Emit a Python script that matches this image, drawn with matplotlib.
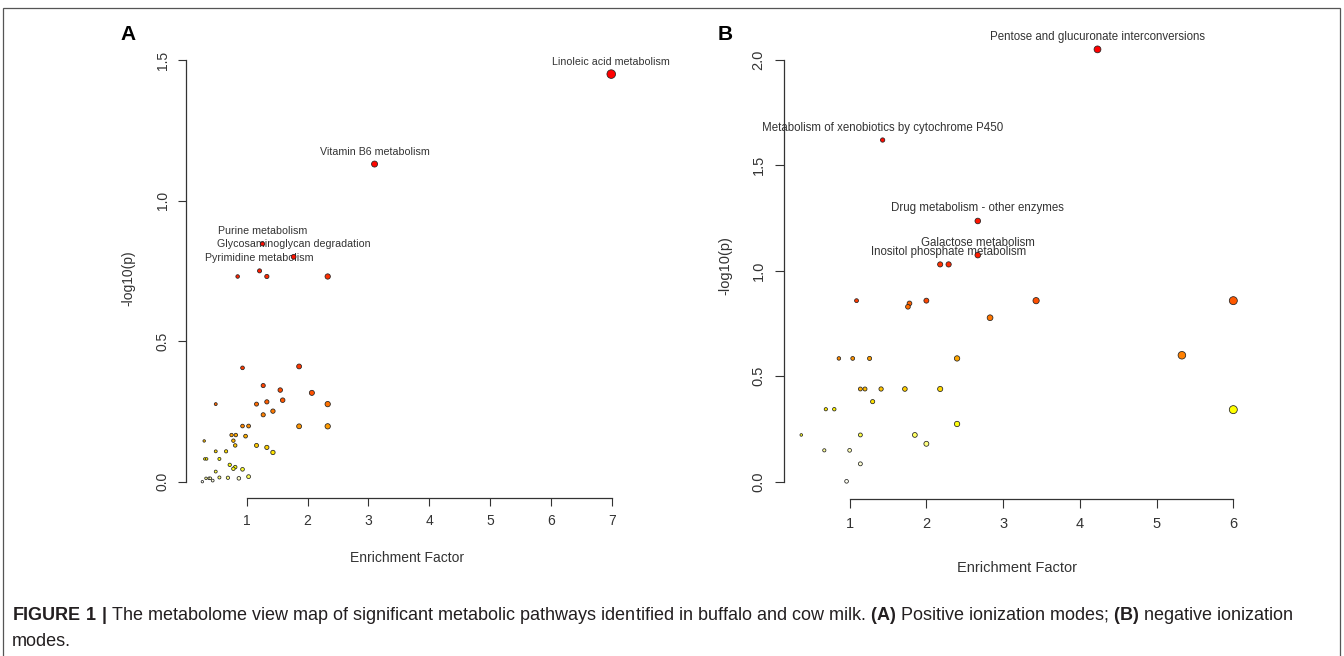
import colorsys
import numpy as np
import matplotlib
matplotlib.use("Agg")
import matplotlib.pyplot as plt
from matplotlib.patches import Rectangle

# ---- panel A: positive ionization ----
a_top_names = ["Linoleic acid metabolism", "Vitamin B6 metabolism", "Purine metabolism",
               "Glycosaminoglycan degradation", "Pyrimidine metabolism"]
a_top_ef = [6.99, 3.10, 1.26, 1.77, 1.21]
a_top_logp = [1.45, 1.13, 0.846, 0.80, 0.75]

a_ef = [0.85, 1.33, 2.33, 0.93, 1.86, 1.27, 1.55, 2.07, 0.49, 1.16, 1.33, 1.59, 2.33,
        1.27, 1.43, 0.93, 1.03, 1.86, 2.33, 0.75, 0.82, 0.78, 0.98, 0.81, 0.30, 1.16,
        1.33, 1.43, 0.49, 0.66, 0.31, 0.34, 0.55, 0.72, 0.78, 0.81, 0.93, 0.49, 0.33,
        0.38, 0.40, 0.44, 0.27, 0.55, 0.69, 0.87, 1.03]
a_logp = [0.73, 0.73, 0.73, 0.405, 0.41, 0.342, 0.326, 0.316, 0.276, 0.276, 0.284, 0.29,
          0.276, 0.238, 0.251, 0.198, 0.198, 0.197, 0.197, 0.166, 0.166, 0.146, 0.162,
          0.129, 0.145, 0.129, 0.122, 0.104, 0.108, 0.108, 0.081, 0.081, 0.081, 0.06,
          0.046, 0.052, 0.044, 0.036, 0.012, 0.012, 0.012, 0.004, 0.0, 0.015, 0.014,
          0.012, 0.018]

# ---- panel B: negative ionization ----
b_top_names = ["Pentose and glucuronate interconversions",
               "Metabolism of xenobiotics by cytochrome P450",
               "Drug metabolism - other enzymes", "Galactose metabolism",
               "Inositol phosphate metabolism"]
b_top_ef = [4.23, 1.43, 2.67, 2.67, 2.29]
b_top_logp = [2.05, 1.62, 1.236, 1.074, 1.03]

b_ef = [2.18, 1.09, 1.78, 1.76, 2.00, 3.43, 2.83, 6.00, 5.33, 6.00, 0.86, 1.04, 1.26,
        2.40, 1.14, 1.20, 1.41, 1.72, 2.18, 1.30, 0.69, 0.80, 2.40, 0.37, 1.14, 1.85,
        2.00, 0.67, 1.00, 1.14, 0.96]
b_logp = [1.03, 0.858, 0.845, 0.829, 0.858, 0.858, 0.777, 0.858, 0.599, 0.341, 0.584,
          0.584, 0.584, 0.584, 0.439, 0.439, 0.439, 0.439, 0.439, 0.379, 0.343, 0.343,
          0.273, 0.221, 0.221, 0.221, 0.179, 0.148, 0.148, 0.084, 0.001]

caption_1 = (r"$\mathbf{FIGURE\ 1\ |}$ The metabolome view map of significant metabolic "
             r"pathways identified in buffalo and cow milk. $\mathbf{(A)}$ Positive "
             r"ionization modes; $\mathbf{(B)}$ negative ionization")
caption_2 = "modes."

W, H = 1344, 656


def fx(x):
    return x / W


def fy(y):
    return 1 - y / H


def heat_colors(n):
    # same as R heat.colors()
    j = n // 4
    i = n - j
    cols = [colorsys.hsv_to_rgb(h, 1, 1) for h in np.linspace(0, 1 / 6, i)]
    if j > 0:
        cols += [colorsys.hsv_to_rgb(1 / 6, s, 1)
                 for s in np.linspace(1 - 1 / (2 * j), 1 / (2 * j), j)]
    return cols


def pathway_plot(ax, top_ef, top_logp, names, ef, logp, rmin, rmax, fs_lab):
    x = np.array(top_ef + ef)
    y = np.array(top_logp + logp)
    order = np.argsort(-y, kind="stable")
    x, y = x[order], y[order]
    cols = heat_colors(len(y))
    sq = np.sqrt(x)
    r = rmin + (rmax - rmin) * (sq - sq.min()) / (sq.max() - sq.min())
    size = (2 * r * 0.72) ** 2
    ax.scatter(x, y, s=size, c=cols, edgecolors="#222222", linewidths=0.55,
               zorder=3, clip_on=False)
    for n, xx, yy in zip(names, top_ef, top_logp):
        ax.annotate(n, (xx, yy), xytext=(0, 9), textcoords="offset points",
                    ha="center", va="center", fontsize=fs_lab, color="#333333",
                    zorder=2, annotation_clip=False)
    xr = x.max() - x.min()
    yr = y.max() - y.min()
    ax.set_xlim(x.min() - 0.04 * xr, x.max() + 0.04 * xr)
    ax.set_ylim(y.min() - 0.04 * yr, y.max() + 0.04 * yr)
    for s in ["top", "right"]:
        ax.spines[s].set_visible(False)
    for s in ["left", "bottom"]:
        ax.spines[s].set_color("#333333")
        ax.spines[s].set_linewidth(0.9)


plt.rcParams["font.family"] = ["Liberation Sans", "DejaVu Sans"]
plt.rcParams["mathtext.fontset"] = "custom"
plt.rcParams["mathtext.rm"] = "Liberation Sans"
plt.rcParams["mathtext.bf"] = "Liberation Sans:bold"

fig = plt.figure(figsize=(W / 100, H / 100), dpi=100)

# panel A
axA = fig.add_axes([fx(186), fy(498), fx(627.6 - 186), (498 - 57.8) / H])
pathway_plot(axA, a_top_ef, a_top_logp, a_top_names, a_ef, a_logp, 1.2, 4.3, 7.7)
axA.spines["left"].set_bounds(0, 1.5)
axA.spines["bottom"].set_bounds(1, 7)
axA.set_xticks(range(1, 8))
axA.set_yticks([0, 0.5, 1.0, 1.5])
axA.set_yticklabels(["0.0", "0.5", "1.0", "1.5"], rotation=90, va="center")
axA.tick_params(length=5.8, width=0.8, color="#333333", labelsize=10,
                labelcolor="#333333", pad=6)
axA.set_xlabel("Enrichment Factor", fontsize=10, color="#333333")
axA.set_ylabel("-log10(p)", fontsize=10, color="#333333")
axA.xaxis.set_label_coords(0.5, (498 - 558) / 440.2)
axA.xaxis.label.set_va("center")
axA.yaxis.set_label_coords((128 - 186) / 441.6, 0.5)
axA.yaxis.label.set_va("center")

# panel B
axB = fig.add_axes([fx(784), fy(498.6), fx(1250.6 - 784), (498.6 - 32.1) / H])
pathway_plot(axB, b_top_ef, b_top_logp, b_top_names, b_ef, b_logp, 1.3, 4.0, 8.3)
axB.spines["left"].set_bounds(0, 2.0)
axB.spines["bottom"].set_bounds(1, 6)
axB.set_xticks(range(1, 7))
axB.set_yticks([0, 0.5, 1.0, 1.5, 2.0])
axB.set_yticklabels(["0.0", "0.5", "1.0", "1.5", "2.0"], rotation=90, va="center")
axB.tick_params(length=6.3, width=0.8, color="#333333", labelsize=10.5,
                labelcolor="#333333", pad=7)
axB.set_xlabel("Enrichment Factor", fontsize=10.5, color="#333333")
axB.set_ylabel("-log10(p)", fontsize=10.5, color="#333333")
axB.xaxis.set_label_coords(0.5, (498.6 - 567.7) / 466.5)
axB.xaxis.label.set_va("center")
axB.yaxis.set_label_coords((725 - 784) / 466.6, 0.5)
axB.yaxis.label.set_va("center")

# panel letters
fig.text(fx(128), fy(35), "A", fontsize=15, weight="bold", ha="center", va="center")
fig.text(fx(725), fy(35), "B", fontsize=15, weight="bold", ha="center", va="center")

# frame
fig.add_artist(Rectangle((fx(3), fy(700)), fx(1340 - 3), (700 - 8) / H, fill=False,
                         edgecolor="#555555", linewidth=0.9, transform=fig.transFigure))

# caption
fig.text(fx(12), fy(616), caption_1, fontsize=13, color="#231f20", va="center")
fig.text(fx(12), fy(641), caption_2, fontsize=13, color="#231f20", va="center")

fig.savefig("out.png", dpi=100)
